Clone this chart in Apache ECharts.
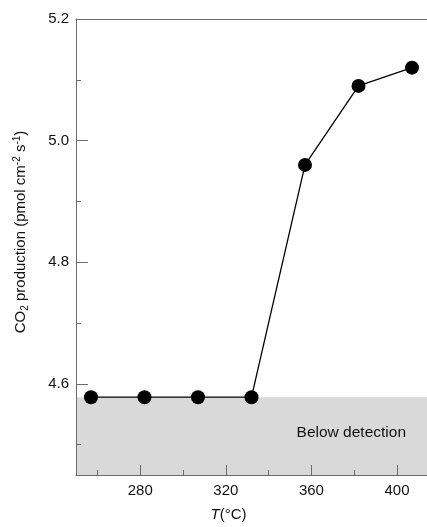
<!DOCTYPE html>
<html>
<head>
<meta charset="utf-8">
<script src="https://cdn.jsdelivr.net/npm/echarts@6/dist/echarts.min.js"></script>
<style>
  html, body { margin: 0; padding: 0; background: #fff; }
  #chart { width: 427px; height: 527px; }
</style>
</head>
<body>
<div id="chart"></div>
<script>
// Temperature (°C) and CO2 production rate
const temperatures = [257, 282, 307, 332, 357, 382, 407];
const co2Production = [4.578, 4.578, 4.578, 4.578, 4.96, 5.09, 5.12];

// Axis extents and tick values
const xRange = [250, 414];
const yRange = [4.45, 5.2];
const xMajorTicks = [280, 320, 360, 400];
const xMinorTicks = [260, 300, 340, 380];
const yMajorTicks = [4.6, 4.8, 5.0, 5.2];
const yMinorTicks = [4.5, 4.7, 4.9, 5.1];

// Detection limit: values at or below this are not detected
const detectionLimit = 4.578;
const detectionLabel = 'Below detection';

const axisColor = '#6b6b6b';
const fontFamily = 'Liberation Sans, Arial, sans-serif';
const textFont = { fontFamily, color: '#111', fontSize: 15 };

const chart = echarts.init(document.getElementById('chart'), null, { renderer: 'canvas' });

chart.setOption({
  animation: false,
  backgroundColor: '#fff',
  grid: { left: 76, top: 19, right: 0, bottom: 44, containLabel: false },
  xAxis: [
    {
      type: 'value', min: xRange[0], max: xRange[1], position: 'bottom', z: 10,
      axisLine: { show: true, lineStyle: { color: axisColor, width: 1 } },
      axisTick: { show: true, inside: true, length: 10, customValues: xMajorTicks, lineStyle: { color: axisColor } },
      axisLabel: { show: true, customValues: xMajorTicks, margin: 8, ...textFont },
      splitLine: { show: false },
      name: '{i|T}(°C)', nameLocation: 'middle', nameGap: 32,
      nameTextStyle: {
        ...textFont, padding: [0, 46, 0, 0],
        rich: { i: { fontStyle: 'italic', fontFamily, fontSize: 15, color: '#111' } }
      }
    },
    {
      type: 'value', min: xRange[0], max: xRange[1], position: 'bottom', z: 10,
      axisLine: { show: false },
      axisTick: { show: true, inside: true, length: 5, customValues: xMinorTicks, lineStyle: { color: axisColor } },
      axisLabel: { show: false },
      splitLine: { show: false }
    },
    {
      type: 'value', min: xRange[0], max: xRange[1], position: 'top', z: 10,
      axisLine: { show: true, lineStyle: { color: axisColor, width: 1 } },
      axisTick: { show: false }, axisLabel: { show: false }, splitLine: { show: false }
    }
  ],
  yAxis: [
    {
      type: 'value', min: yRange[0], max: yRange[1], position: 'left', z: 10,
      axisLine: { show: true, lineStyle: { color: axisColor, width: 1 } },
      axisTick: { show: true, inside: true, length: 12, customValues: yMajorTicks, lineStyle: { color: axisColor } },
      axisLabel: { show: true, customValues: yMajorTicks, margin: 7, formatter: v => v.toFixed(1), ...textFont },
      splitLine: { show: false },
      name: 'CO{sub|2} production (pmol cm{sup|-2} s{sup|-1})',
      nameLocation: 'middle', nameGap: 46, nameRotate: 90,
      nameTextStyle: {
        ...textFont, lineHeight: 18, padding: [0, 0, 0, 30],
        rich: {
          sub: { fontSize: 10, verticalAlign: 'bottom', lineHeight: 18, fontFamily, color: '#111' },
          sup: { fontSize: 10, verticalAlign: 'top', lineHeight: 18, fontFamily, color: '#111' }
        }
      }
    },
    {
      type: 'value', min: yRange[0], max: yRange[1], position: 'left', z: 10,
      axisLine: { show: false },
      axisTick: { show: true, inside: true, length: 5, customValues: yMinorTicks, lineStyle: { color: axisColor } },
      axisLabel: { show: false },
      splitLine: { show: false }
    }
  ],
  series: [
    {
      type: 'line',
      xAxisIndex: 0, yAxisIndex: 0,
      data: temperatures.map((t, i) => [t, co2Production[i]]),
      symbol: 'circle', symbolSize: 14,
      itemStyle: { color: '#000' },
      lineStyle: { color: '#000', width: 1.3 },
      z: 5,
      markArea: {
        silent: true,
        z: 1,
        itemStyle: { color: '#d9d9d9' },
        label: {
          show: true, position: 'insideRight', distance: 21, offset: [0, -3],
          ...textFont, fontSize: 15.5, formatter: detectionLabel
        },
        data: [[{ yAxis: yRange[0] }, { yAxis: detectionLimit }]]
      }
    }
  ]
});
</script>
</body>
</html>
